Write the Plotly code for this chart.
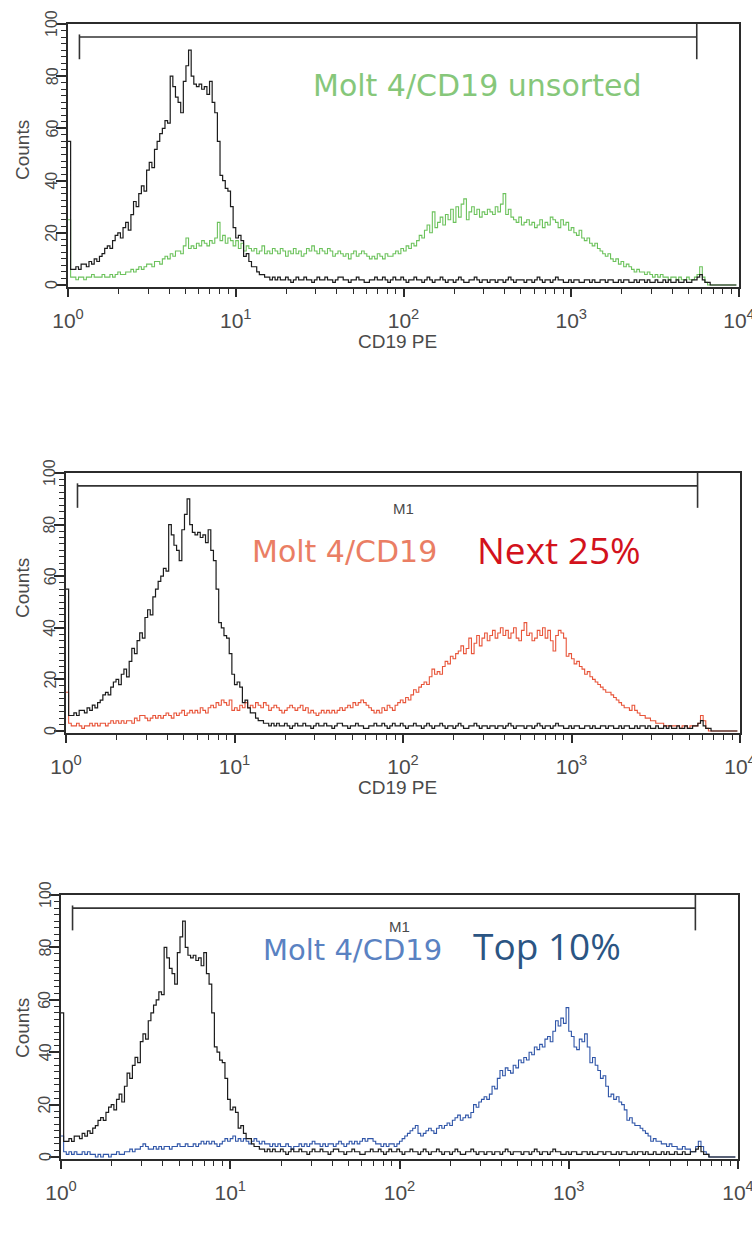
import plotly.graph_objects as go

W, H = 752, 1241

# 256-channel log histograms spanning four decades (10^0 .. 10^4)
N_CHANNELS = 256
N_DECADES = 4
channel_x = [10 ** (N_DECADES * i / N_CHANNELS) for i in range(N_CHANNELS)]

# Isotype control (black) – the same control run is overlaid in every panel
isotype_counts = [
    55, 6, 6, 7, 6, 8, 8, 7, 9, 8, 10, 9, 11, 12, 14, 15,
    14, 17, 19, 20, 18, 22, 24, 21, 27, 32, 30, 35, 38, 36, 44, 47,
    45, 52, 55, 58, 60, 63, 62, 80, 76, 72, 70, 66, 78, 84, 90, 80,
    77, 76, 77, 75, 76, 73, 78, 70, 66, 55, 42, 40, 37, 36, 30, 22,
    18, 19, 17, 11, 12, 9, 7, 7, 5, 4, 4, 3, 3, 2, 3, 2,
    3, 2, 2, 3, 2, 1, 2, 3, 2, 2, 3, 2, 2, 1, 2, 3,
    2, 2, 3, 2, 2, 1, 2, 3, 3, 2, 2, 1, 2, 2, 3, 2,
    2, 1, 1, 2, 2, 3, 2, 2, 3, 2, 1, 2, 3, 2, 2, 3,
    2, 1, 2, 2, 3, 2, 2, 1, 2, 3, 2, 1, 2, 2, 3, 2,
    1, 2, 2, 1, 2, 3, 2, 1, 1, 2, 2, 3, 2, 1, 2, 2,
    1, 2, 2, 1, 2, 2, 1, 2, 3, 2, 1, 2, 2, 2, 1, 2,
    2, 1, 2, 3, 2, 1, 2, 2, 1, 2, 3, 2, 2, 1, 1, 2,
    1, 2, 2, 1, 1, 2, 2, 1, 2, 1, 1, 2, 2, 1, 2, 2,
    1, 1, 2, 1, 2, 2, 1, 1, 2, 1, 2, 2, 1, 2, 1, 1,
    2, 1, 1, 2, 1, 2, 1, 1, 2, 1, 1, 2, 1, 1, 2, 2,
    3, 4, 2, 1, 1, 0, 0, 0, 0, 0, 0, 0, 0, 0, 0, 0,
]

# Molt 4/CD19, unsorted population (green)
unsorted_counts = [
    25, 3, 3, 2, 3, 3, 2, 3, 3, 4, 3, 3, 3, 4, 3, 3,
    4, 3, 4, 5, 4, 4, 5, 5, 6, 5, 6, 7, 6, 7, 8, 8,
    7, 9, 9, 8, 10, 11, 10, 12, 11, 13, 13, 12, 15, 18, 14, 15,
    14, 16, 15, 17, 16, 15, 17, 16, 18, 24, 17, 19, 16, 18, 17, 15,
    17, 14, 16, 13, 15, 14, 13, 14, 12, 13, 15, 12, 13, 12, 14, 13,
    12, 14, 13, 11, 13, 12, 14, 12, 13, 11, 12, 14, 13, 15, 13, 12,
    14, 13, 12, 14, 13, 11, 12, 13, 12, 11, 12, 10, 12, 13, 11, 12,
    13, 12, 11, 10, 11, 10, 12, 11, 10, 12, 11, 11, 12, 13, 12, 14,
    13, 15, 14, 16, 15, 17, 19, 18, 21, 23, 20, 28, 22, 24, 26, 23,
    27, 25, 29, 24, 30, 26, 31, 33, 25, 28, 30, 27, 29, 26, 28, 27,
    29, 28, 27, 30, 28, 31, 35, 27, 29, 26, 25, 24, 26, 23, 24, 25,
    23, 24, 22, 23, 25, 22, 24, 23, 26, 25, 24, 22, 25, 23, 24, 21,
    22, 20, 19, 21, 18, 17, 18, 16, 15, 16, 14, 13, 12, 11, 12, 10,
    9, 10, 8, 9, 7, 8, 7, 6, 5, 6, 5, 5, 4, 5, 4, 3,
    4, 3, 4, 3, 3, 2, 3, 3, 2, 3, 2, 2, 3, 2, 2, 3,
    4, 7, 3, 1, 0, 0, 0, 0, 0, 0, 0, 0, 0, 0, 0, 0,
]

# Molt 4/CD19, next 25% sort gate (red)
next25_counts = [
    15, 3, 2, 2, 3, 2, 1, 2, 2, 3, 2, 3, 2, 3, 3, 2,
    3, 4, 3, 4, 3, 4, 3, 4, 4, 3, 5, 4, 6, 6, 5, 4,
    5, 6, 5, 6, 5, 6, 7, 6, 5, 7, 6, 7, 8, 6, 7, 8,
    7, 8, 7, 9, 8, 7, 9, 10, 9, 11, 10, 12, 11, 10, 12, 8,
    9, 8, 10, 9, 11, 9, 10, 9, 11, 10, 9, 11, 10, 8, 9, 10,
    9, 8, 7, 8, 9, 10, 9, 8, 9, 10, 8, 9, 7, 8, 7, 6,
    7, 8, 7, 8, 7, 8, 7, 8, 9, 8, 9, 10, 9, 11, 10, 11,
    12, 11, 10, 9, 8, 7, 8, 7, 9, 8, 10, 9, 8, 10, 11, 12,
    11, 13, 12, 14, 16, 15, 17, 18, 19, 18, 21, 24, 22, 23, 22, 25,
    27, 26, 29, 28, 30, 31, 33, 30, 32, 36, 30, 34, 37, 33, 36, 38,
    35, 37, 39, 36, 38, 40, 37, 39, 36, 38, 40, 36, 35, 39, 42, 37,
    38, 35, 36, 39, 37, 40, 36, 39, 35, 31, 37, 39, 38, 36, 29, 30,
    28, 26, 27, 25, 24, 22, 23, 21, 20, 19, 18, 17, 16, 15, 15, 14,
    13, 12, 11, 10, 9, 9, 8, 10, 8, 7, 6, 6, 5, 5, 4, 4,
    3, 3, 3, 2, 2, 2, 2, 2, 2, 1, 2, 2, 1, 2, 2, 2,
    3, 6, 4, 1, 0, 0, 0, 0, 0, 0, 0, 0, 0, 0, 0, 0,
]

# Molt 4/CD19, top 10% sort gate (blue)
top10_counts = [
    8, 2, 1, 2, 1, 2, 1, 1, 2, 1, 2, 1, 1, 0, 1, 0,
    1, 1, 0, 1, 1, 2, 1, 1, 2, 2, 3, 2, 3, 3, 4, 5,
    4, 3, 3, 4, 3, 4, 3, 4, 4, 3, 4, 4, 5, 4, 4, 5,
    4, 4, 5, 4, 5, 6, 5, 6, 5, 6, 5, 4, 5, 6, 7, 6,
    7, 8, 6, 7, 6, 7, 6, 5, 6, 7, 6, 5, 6, 5, 5, 4,
    5, 4, 5, 4, 4, 5, 4, 3, 4, 4, 5, 4, 5, 4, 5, 6,
    5, 5, 4, 5, 4, 5, 5, 4, 5, 6, 5, 4, 5, 6, 5, 6,
    5, 6, 7, 6, 7, 7, 6, 5, 5, 4, 5, 4, 5, 5, 4, 5,
    6, 7, 8, 9, 10, 11, 12, 9, 8, 9, 10, 11, 10, 9, 11, 12,
    11, 12, 13, 12, 14, 15, 16, 14, 15, 16, 15, 17, 20, 19, 21, 22,
    23, 22, 24, 27, 26, 30, 33, 31, 34, 33, 32, 35, 34, 37, 36, 38,
    37, 40, 39, 42, 41, 43, 42, 45, 46, 44, 48, 52, 50, 53, 51, 57,
    48, 46, 42, 41, 45, 44, 47, 42, 36, 38, 35, 33, 30, 31, 27, 23,
    24, 22, 23, 21, 20, 18, 14, 15, 13, 12, 12, 11, 10, 9, 8, 6,
    7, 6, 6, 5, 5, 4, 5, 4, 4, 3, 3, 4, 3, 3, 2, 2,
    4, 6, 4, 2, 1, 0, 0, 0, 0, 0, 0, 0, 0, 0, 0, 0,
]

# Axis ticks
x_tick_vals = [1, 10, 100, 1000, 10000]
x_tick_text = ["10<sup>0</sup>", "10<sup>1</sup>", "10<sup>2</sup>", "10<sup>3</sup>", "10<sup>4</sup>"]
x_minor_vals = [m * 10 ** d for d in range(4) for m in range(2, 10)]
y_tick_vals = [0, 20, 40, 60, 80, 100]
y_tick_text = ["0", "20", "40", "60", "80", "100"]

# M1 marker gate
m1_low, m1_high = 1.17, 5600
m1_level, m1_tick_top, m1_tick_bottom = 95, 99.5, 86.5

Y_MIN = -0.8

# Panel geometry in pixels: left/right of x axis, pixel row of count 0 and count 100,
# and the row where the "Counts" title is centred
panels = [
    dict(xl=68, xr=739, y0=285, y100=24, counts=unsorted_counts, color="#6cc25c",
         xtitle=True, m1=None, counts_row=150),
    dict(xl=66, xr=740, y0=731, y100=473, counts=next25_counts, color="#e8553a",
         xtitle=True, m1=(403, 508), counts_row=588),
    dict(xl=61, xr=738, y0=1157, y100=895, counts=top10_counts, color="#2f55a8",
         xtitle=False, m1=(399, 926), counts_row=1028),
]

AX_COLOR = "#2b2b2b"
LABEL_COLOR = "#4a4a4a"
HELV = "Liberation Sans, Arial, sans-serif"
X_TICK_FONT = dict(family=HELV, size=21, color=LABEL_COLOR)
Y_TICK_FONT = dict(family=HELV, size=16, color=LABEL_COLOR)

fig = go.Figure()
layout = dict(
    width=W, height=H, margin=dict(l=0, r=0, t=0, b=0, autoexpand=False),
    paper_bgcolor="white", plot_bgcolor="white", showlegend=False,
)
annotations = []


def px_x(x):
    return x / W


def px_y(y):
    return 1 - y / H


for k, p in enumerate(panels, start=1):
    xa = "x" if k == 1 else f"x{k}"
    ya = "y" if k == 1 else f"y{k}"
    px_per_count = (p["y0"] - p["y100"]) / 100.0
    ybot = p["y0"] - Y_MIN * px_per_count

    fig.add_trace(go.Scatter(
        x=channel_x, y=p["counts"], mode="lines", line=dict(color=p["color"], width=1.1, shape="hv"),
        xaxis=xa, yaxis=ya, hoverinfo="skip",
    ))
    fig.add_trace(go.Scatter(
        x=channel_x, y=isotype_counts, mode="lines", line=dict(color="#1c1c1c", width=1.2, shape="hv"),
        xaxis=xa, yaxis=ya, hoverinfo="skip",
    ))
    # M1 gate bracket
    fig.add_trace(go.Scatter(
        x=[m1_low, m1_low, None, m1_low, m1_high, None, m1_high, m1_high],
        y=[m1_tick_bottom, m1_level + 1, None, m1_level, m1_level, None, m1_tick_top + 0.5, m1_tick_bottom],
        mode="lines", line=dict(color="#333333", width=1.6),
        xaxis=xa, yaxis=ya, hoverinfo="skip",
    ))

    xkey = "xaxis" if k == 1 else f"xaxis{k}"
    ykey = "yaxis" if k == 1 else f"yaxis{k}"
    layout[xkey] = dict(
        type="log", range=[0, 4], domain=[px_x(p["xl"]), px_x(p["xr"])], anchor=ya, automargin=False,
        showgrid=False, zeroline=False, showline=True, mirror=True, linecolor=AX_COLOR, linewidth=1.6,
        tickmode="array", tickvals=x_tick_vals, ticktext=x_tick_text,
        ticks="outside", ticklen=8, tickwidth=1.5, tickcolor=AX_COLOR, tickfont=X_TICK_FONT,
        ticklabelstandoff=6, ticklabeloverflow="allow",
        minor=dict(tickmode="array", tickvals=x_minor_vals, ticks="outside", ticklen=5,
                   tickwidth=1.3, tickcolor=AX_COLOR, showgrid=False),
    )
    layout[ykey] = dict(
        range=[Y_MIN, 100], domain=[px_y(ybot), px_y(p["y100"])], anchor=xa, automargin=False,
        showgrid=False, zeroline=False, showline=True, mirror=True, linecolor=AX_COLOR, linewidth=1.6,
        tickmode="array", tickvals=y_tick_vals, showticklabels=False,
        ticks="outside", ticklen=10, tickwidth=1.5, tickcolor=AX_COLOR,
        minor=dict(dtick=2.5, ticks="outside", ticklen=5, tickwidth=1.2, tickcolor=AX_COLOR, showgrid=False),
    )

    # rotated count labels placed against the y axis ticks
    for v, t in zip(y_tick_vals, y_tick_text):
        annotations.append(dict(
            text=t, x=px_x(p["xl"] - 16), y=v, xref="paper", yref=ya,
            textangle=-90, showarrow=False, xanchor="center", yanchor="middle",
            font=Y_TICK_FONT,
        ))

    annotations.append(dict(
        text="Counts", x=px_x(22), y=px_y(p["counts_row"]), xref="paper", yref="paper",
        textangle=-90, showarrow=False, xanchor="center", yanchor="middle",
        font=dict(family=HELV, size=19, color=LABEL_COLOR),
    ))
    if p["xtitle"]:
        annotations.append(dict(
            text="CD19 PE", x=px_x(397), y=px_y(p["y0"] + 56), xref="paper", yref="paper",
            showarrow=False, xanchor="center", yanchor="middle",
            font=dict(family=HELV, size=19, color=LABEL_COLOR),
        ))
    if p["m1"]:
        annotations.append(dict(
            text="M1", x=px_x(p["m1"][0]), y=px_y(p["m1"][1]), xref="paper", yref="paper",
            showarrow=False, xanchor="center", yanchor="middle",
            font=dict(family=HELV, size=15, color=LABEL_COLOR),
        ))

SAMPLE_FONT = "DejaVu Sans, Verdana, sans-serif"
GATE_FONT = "Open Sans, Lato, sans-serif"


def label(text, x, y, size, color, family):
    annotations.append(dict(
        text=text, x=px_x(x), y=px_y(y), xref="paper", yref="paper", showarrow=False,
        xanchor="left", yanchor="middle", font=dict(family=family, size=size, color=color),
    ))


label("Molt 4/CD19 unsorted", 311, 85, 30, "#86c77a", SAMPLE_FONT)
label("Molt 4/CD19", 250, 551, 30, "#ea7e64", SAMPLE_FONT)
label("Next 25%", 475, 549, 37, "#d3121c", GATE_FONT)
label("Molt 4/CD19", 261, 950, 29, "#5a82c2", SAMPLE_FONT)
label("Top 10%", 471, 945, 37, "#2b5583", GATE_FONT)

layout["annotations"] = annotations
fig.update_layout(**layout)
fig.write_html("out.html")
